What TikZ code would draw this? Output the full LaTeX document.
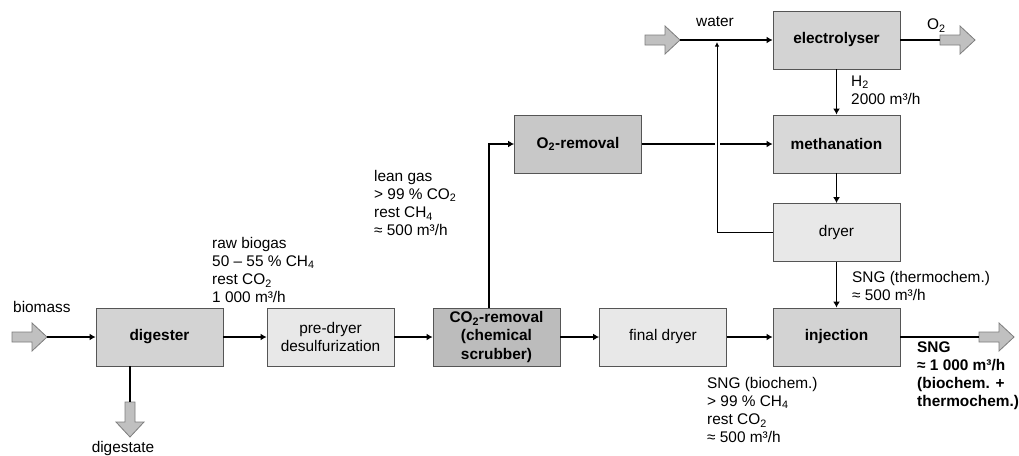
\documentclass[tikz,border=0pt]{standalone}
\usepackage{fontspec}
\setmainfont{Liberation Sans}
\usetikzlibrary{arrows.meta}
\definecolor{cdark}{RGB}{188,188,188}
\definecolor{cotwo}{RGB}{200,200,200}
\definecolor{cmed}{RGB}{211,211,211}
\definecolor{cmeth}{RGB}{216,216,216}
\definecolor{clight}{RGB}{232,232,232}
\definecolor{cblk}{RGB}{192,192,192}
\definecolor{cblkline}{RGB}{125,125,125}
\definecolor{cbord}{RGB}{85,85,85}
\newcommand{\rblock}[1]{\draw[barrow] (#1) ++(0,-5) -- ++(20,0) -- ++(0,-9) -- ++(15,14) -- ++(-15,14) -- ++(0,-9) -- ++(-20,0) -- cycle;}
\newcommand{\dblock}[1]{\draw[barrow] (#1) ++(-5,0) -- ++(0,20) -- ++(-9,0) -- ++(14,15) -- ++(14,-15) -- ++(-9,0) -- ++(0,-20) -- cycle;}
\begin{document}
\begin{tikzpicture}[x=1pt,y=-1pt,
  every node/.style={font=\fontsize{15.4}{18.3}\selectfont, inner sep=0pt},
  box/.style={draw=cbord, line width=0.9pt, minimum width=127pt, minimum height=58pt, align=center},
  flow/.style={line width=1.8pt, -{Latex[length=6pt,width=7pt]}},
  pipe/.style={line width=1.8pt},
  recyc/.style={line width=1pt, -{Latex[length=4.5pt,width=4.5pt]}},
  barrow/.style={draw=cblkline, fill=cblk, line width=0.8pt},
  lbl/.style={anchor=base west, align=left}]
\useasboundingbox (0,0) rectangle (1019,455);
\fill[white] (0,0) rectangle (1019,455);

% process boxes
\node[box, fill=cmed] (dig) at (159.5,337) {\bfseries digester};
\node[box, fill=clight] (pre) at (330.5,337) {pre-dryer\\desulfurization};
\node[box, fill=cdark] (co2) at (496.5,337) {\bfseries CO\textsubscript{2}-removal\\\bfseries (chemical\\\bfseries scrubber)};
\node[box, fill=clight] (fin) at (663,337) {final dryer};
\node[box, fill=cmed] (inj) at (836.5,337) {\bfseries injection};
\node[box, fill=cotwo] (o2r) at (578,144) {\bfseries O\textsubscript{2}-removal};
\node[box, fill=cmed] (ely) at (836.5,40) {\bfseries electrolyser};
\node[box, fill=cmeth] (met) at (836.5,144) {\bfseries methanation};
\node[box, fill=clight] (dry) at (836.5,232.5) {dryer};

% block arrows (inputs / outputs)
\coordinate (bioTail) at (12,337);
\coordinate (bioTip) at (47,337);
\coordinate (watTail) at (645,40);
\coordinate (watTip) at (680,40);
\coordinate (oxTail) at (940,40);
\coordinate (outTail) at (979,337);
\coordinate (digTail) at (130,402);
\rblock{bioTail}
\rblock{watTail}
\rblock{oxTail}
\rblock{outTail}
\dblock{digTail}

% connectors
\draw[flow] (bioTip) -- (dig.west);
\draw[flow] (dig.east) -- (pre.west);
\draw[flow] (pre.east) -- (co2.west);
\draw[flow] (co2.east) -- (fin.west);
\draw[flow] (fin.east) -- (inj.west);
\draw[pipe] (inj.east) -- (outTail);
\draw[pipe] (dig.south -| digTail) -- (digTail);
\coordinate (cturn) at (489,144);
\draw[flow] (co2.north -| cturn) -- (cturn) -- (o2r.west);
\coordinate (gapL) at (715,144);
\coordinate (gapR) at (720,144);
\draw[pipe] (o2r.east) -- (gapL);
\draw[flow] (gapR) -- (met.west);
\draw[flow] (watTip) -- (ely.west);
\draw[pipe] (ely.east) -- (oxTail);
\draw[flow] (ely.south) -- (met.north);
\draw[flow] (met.south) -- (dry.north);
\draw[flow] (dry.south) -- (inj.north);
\coordinate (rturn) at (717,232.5);
\coordinate (rtop) at (717,42);
\draw[recyc] (dry.west) -- (rturn) -- (rtop);

% labels (base = baseline of last line)
\node[anchor=base west] (lbio) at (13,312) {biomass};
\node[anchor=base] (ldig) at (123,452) {digestate};
\node[anchor=base] (lwat) at (715,26.5) {water};
\node[anchor=base west] (lox) at (927,29.5) {O\textsubscript{2}};
\node[lbl] (lraw) at (212,302.9) {raw biogas\\50 – 55 \% CH\textsubscript{4}\\rest CO\textsubscript{2}\\1 000 m³/h};
\node[lbl] (llean) at (374,235.9) {lean gas\\> 99 \% CO\textsubscript{2}\\rest CH\textsubscript{4}\\≈ 500 m³/h};
\node[lbl] (lh2) at (851,104.3) {H\textsubscript{2}\\2000 m³/h};
\node[lbl] (lthe) at (852,300.8) {SNG (thermochem.)\\≈ 500 m³/h};
\node[lbl] (lbio2) at (707,442.9) {SNG (biochem.)\\> 99 \% CH\textsubscript{4}\\rest CO\textsubscript{2}\\≈ 500 m³/h};
\node[lbl, font=\fontsize{15.4}{18.3}\selectfont\bfseries] (lsng) at (917,406.9) {SNG\\≈ 1 000 m³/h\\(biochem. +\\thermochem.)};
\end{tikzpicture}
\end{document}
